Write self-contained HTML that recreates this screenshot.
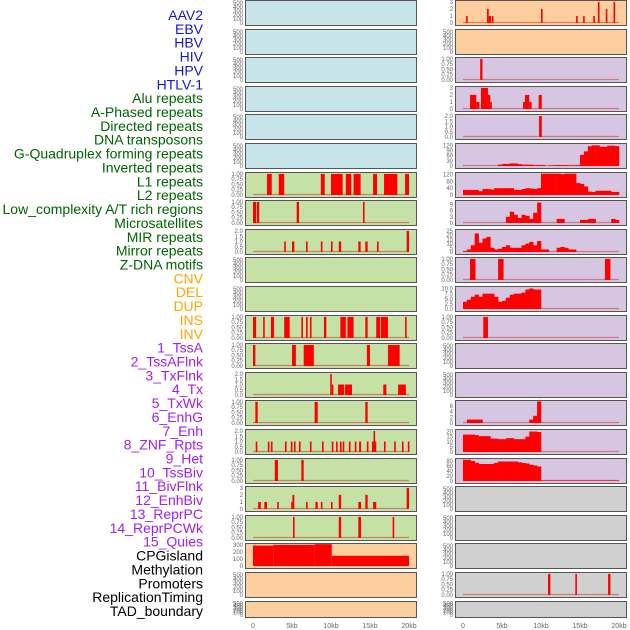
<!DOCTYPE html>
<html><head><meta charset="utf-8"><style>
body{margin:0;background:#fff;}
svg{display:block;font-family:"Liberation Sans",sans-serif;}
</style></head><body>
<svg id="c" width="630" height="630" viewBox="0 0 630 630" xmlns="http://www.w3.org/2000/svg"></svg>
<script>
const labels=["AAV2","EBV","HBV","HIV","HPV","HTLV-1","Alu repeats","A-Phased repeats","Directed repeats","DNA transposons","G-Quadruplex forming repeats","Inverted repeats","L1 repeats","L2 repeats","Low_complexity A/T rich regions","Microsatellites","MIR repeats","Mirror repeats","Z-DNA motifs","CNV","DEL","DUP","INS","INV","1_TssA","2_TssAFlnk","3_TxFlnk","4_Tx","5_TxWk","6_EnhG","7_Enh","8_ZNF_Rpts","9_Het","10_TssBiv","11_BivFlnk","12_EnhBiv","13_ReprPC","14_ReprPCWk","15_Quies","CPGisland","Methylation","Promoters","ReplicationTiming","TAD_boundary"];
const labelColors=["#1515e0","#1515e0","#1515e0","#1515e0","#1515e0","#1515e0","#006400","#006400","#006400","#006400","#006400","#006400","#006400","#006400","#006400","#006400","#006400","#006400","#006400","#ffa500","#ffa500","#ffa500","#ffa500","#ffa500","#a020f0","#a020f0","#a020f0","#a020f0","#a020f0","#a020f0","#a020f0","#a020f0","#a020f0","#a020f0","#a020f0","#a020f0","#a020f0","#a020f0","#a020f0","#000","#000","#000","#000","#000"];
const xTicks=[0,5,10,15,20];
const xTickLabels=["0","5kb","10kb","15kb","20kb"];
const tEmpty=[0,100,200,300,400,500];
const t1=[0,0.25,0.5,0.75,1.0];
const t2=[0,0.5,1.0,1.5,2.0];
const t3=[0,1,2,3];
// left column segments [startKb,endKb,value]
const L6=[[1.8,2.4,1],[3.3,4.0,1],[8.7,9.2,1],[10.0,11.5,1],[11.9,12.6,1],[12.9,13.8,1],[15.4,15.9,1],[16.8,18.5,1],[19.5,20.0,1]];
const L7=[[0,0.4,1],[0.5,0.8,1],[5.6,5.9,1],[14.1,14.3,1]];
const L8=[[4.0,4.2,1],[5.0,5.3,1],[6.8,7.0,1],[8.7,8.9,1],[10.0,10.2,1],[11.0,11.3,1],[13.5,13.8,1],[14.4,14.7,1],[15.9,16.1,1],[19.7,20.0,2]];
const L11=[[0,0.4,1],[1.3,1.5,1],[2.3,2.7,1],[4.0,4.7,1],[6.2,6.4,1],[6.8,7.0,1],[7.3,7.5,1],[9.1,9.4,1],[11.2,11.9,1],[12.1,12.9,1],[14.4,14.7,1],[15.8,16.3,1],[16.4,17.3,1],[19.5,19.7,1]];
const L12=[[0,0.3,1],[5.0,5.5,1],[6.5,7.8,1],[14.6,15.0,1],[17.3,18.8,1]];
const L13=[[9.9,10.1,2],[10.1,10.2,1],[10.9,11.7,1],[11.8,12.7,1],[16.7,17.1,1],[18.6,19.6,1]];
const L14=[[0.3,0.6,1],[7.9,8.3,1],[14.4,14.7,1]];
const L15=[[0.35,0.5,1],[1.9,2.05,1],[2.3,2.45,1],[4.1,4.25,1],[4.85,5.0,1],[5.25,5.4,1],[5.9,6.05,1],[7.3,7.45,1],[8.85,9.0,1],[10.1,10.25,1],[10.65,10.8,1],[11.15,11.3,1],[11.5,11.65,1],[12.3,12.45,1],[13.05,13.2,1],[13.6,13.85,1],[14.6,14.75,1],[15.25,15.45,1],[15.45,15.6,2],[15.6,15.7,1],[16.8,16.95,1],[18.1,18.25,1],[19.1,19.25,1],[19.85,20.0,1]];
const L16=[[2.8,3.2,1],[6.2,6.5,1]];
const L17=[[0.65,1.0,1],[1.45,1.8,1],[3.1,3.3,1],[4.9,5.05,1],[5.05,5.3,2],[6.8,7.0,1],[8.0,8.3,1],[8.7,8.9,1],[10.0,10.2,1],[11.0,11.3,2],[13.5,13.85,1],[14.4,14.7,2],[15.4,15.8,1],[19.7,20.0,3]];
const L18=[[5.13,5.33,1],[11.0,11.3,1],[13.5,13.85,1],[17.9,18.1,1]];
const L19=[[0,2.6,290],[2.6,7.9,300],[7.9,10.1,310],[10.1,20.0,145]];
// right column segments
const R0=[[0.4,0.6,1],[3.08,3.3,2],[3.3,3.6,1],[3.7,3.9,1],[10.0,10.2,2],[14.5,14.7,1],[15.4,15.6,1],[16.7,16.9,1],[17.3,17.5,3],[18.3,18.5,2],[19.3,19.5,3]];
const R2=[[2.2,2.5,1]];
const R3=[[0.9,1.7,2],[1.7,2.1,1],[2.3,3.2,3],[3.2,3.5,2],[3.5,3.6,1],[7.7,7.95,1],[7.95,8.5,2],[8.5,8.8,1],[9.7,10.1,2]];
const R4=[[9.75,10.1,2]];
const R9=[[0.9,1.6,1],[4.5,5.2,1],[18.2,18.9,1]];
const R11=[[2.6,3.2,1]];
const R20=[[10.9,11.2,1],[14.4,14.6,1],[18.6,18.9,1]];
// right column binned values (0.5kb bins, 0..20kb)
const R5=[0,0,0,0,0,0,0,0,0,8,12,12,15,15,11,8,8,8,4,5,5,0,3,4,5,5,5,3,4,5,65,85,115,120,120,112,112,118,118,115];
const R6=[30,30,30,30,22,35,35,32,40,40,40,40,40,30,30,35,40,38,35,40,125,125,125,125,125,122,125,125,125,70,65,50,20,18,25,25,25,25,18,18];
const R7=[0,0,0,0,0,0,0,0,0,0,0,3,5.5,4,2.5,4,3.5,2,5,10,0,0,0,0,2,2,0,0,0,0,1.5,1.5,2,2,0,0,0,0,2,1.5];
const R8=[1,3,8,22,11,16,18,5,3,4,6,8,5,5,5,8,10,12,8,13,3,3,0,0,5,6,5,3,3,0,0,0,0,0,0,0,0,0,0,0];
const R10=[3.5,4.5,6,7,6,7.5,7.5,7.5,6,3.5,4,5.5,7,7.5,7.5,8,9.5,10,9.5,9.5,0,0,0,0,0,0,0,0,0,0,0,0,0,0,0,0,0,0,0,0];
const R14=[0,1.2,1.2,1.2,1.2,0,0,0,0,0,0,0,0,0,0,0,0,1.2,2.5,7.5,0,0,0,0,0,0,0,0,0,0,0,0,0,0,0,0,0,0,0,0];
const R15=[17,17,17,16.5,15.5,15.5,15.5,13,13,12.5,12.5,13.5,13.5,12.5,12.5,12.5,15,20,20,19.5,0,0,0,0,0,0,0,0,0,0,0,0,0,0,0,0,0,0,0,0];
const R16=[85,85,80,73,68,68,68,68,73,78,78,78,78,78,75,72,70,65,62,58,2,2,2,2,2,2,2,2,2,2,2,2,2,2,2,2,2,2,2,2];

const BL="#c7e4eb",GR="#c6e1a5",OR="#fecf9e",PU="#d6c6e2",GY="#d0d0d0";
const panels=[];
function P(col,row,bg,ticks,ymax,seg,bins,tl){panels.push({col,row,bg,ticks,ymax,seg,bins,tl});}
for(let r=0;r<6;r++)P(0,r,BL,tEmpty,540,null,null);
P(0,6,GR,t1,1.02,L6);P(0,7,GR,t1,1.02,L7);P(0,8,GR,t2,2.05,L8);
P(0,9,GR,tEmpty,540);P(0,10,GR,tEmpty,540);
P(0,11,GR,t1,1.02,L11);P(0,12,GR,t1,1.02,L12);P(0,13,GR,t2,2.05,L13);P(0,14,GR,t1,1.02,L14);
P(0,15,GR,t2,2.05,L15);P(0,16,GR,t1,1.02,L16);P(0,17,GR,t3,3.05,L17);P(0,18,GR,t1,1.02,L18);
P(0,19,OR,[0,100,200,300],305,L19);P(0,20,OR,tEmpty,540);P(0,21,OR,tEmpty,540);
P(1,0,OR,t3,3.05,R0);P(1,1,OR,tEmpty,540);P(1,2,PU,t1,1.02,R2);P(1,3,PU,t3,3.05,R3);P(1,4,PU,t2,2.05,R4);
P(1,5,PU,[0,30,60,90,120],125,null,R5);P(1,6,PU,[0,40,80,120],126,null,R6);P(1,7,PU,[0,3,6,9],10.5,null,R7);
P(1,8,PU,[0,5,10,15,20,25],25.5,null,R8);P(1,9,PU,t1,1.02,R9);P(1,10,PU,[0,2.5,5,7.5,10],10.5,null,R10,["0.0","2.5","5.0","7.5","10.0"]);
P(1,11,PU,t1,1.02,R11);P(1,12,PU,tEmpty,540);P(1,13,PU,tEmpty,540);
P(1,14,PU,[0,2,4,6],7.5,null,R14);P(1,15,PU,[0,5,10,15,20],21,null,R15);P(1,16,PU,[0,20,40,60,80],86,null,R16);
P(1,17,GY,tEmpty,540);P(1,18,GY,tEmpty,540);P(1,19,GY,tEmpty,540);P(1,20,GY,t1,1.02,R20);P(1,21,GY,tEmpty,540);

const NS="http://www.w3.org/2000/svg";
const svg=document.getElementById('c');
function mk(tag,attrs,parent){const e=document.createElementNS(NS,tag);for(const k in attrs)e.setAttribute(k,attrs[k]);(parent||svg).appendChild(e);return e;}
// labels
labels.forEach((t,i)=>{
  const e=mk('text',{x:203,y:15+i*13.86+5,'text-anchor':'end','font-size':'14',fill:labelColors[i]});
  
  
  e.textContent=t;
});
function fmt(v,ticks,tl,i){
  if(tl)return tl[i];
  if(ticks===t1)return v.toFixed(2);
  if(ticks===t2)return v.toFixed(1);
  return String(v);
}
panels.forEach(p=>{
  const px=p.col?455:245, top=Math.round(p.row*28.6), h=p.row===21?16:25, w=171;
  const x0=px+8, xs=156/20;
  const yb=top+h-2, yt=top+1.5;
  const ys=v=>yb-(v/p.ymax)*(yb-yt);
  const xk=k=>x0+k*xs;
  const g=mk('g',{});
  
  
  const bg=mk('rect',{x:px+0.5,y:top+0.5,width:w,height:h,fill:p.bg,stroke:'none'},g);
  
  
  p.ticks.forEach((v,i)=>{
    const t=mk('text',{x:px-2,y:ys(v)+2,'text-anchor':'end','font-size':'6',fill:'#666'},g);
    
    
    t.textContent=fmt(v,p.ticks,p.tl,i);
  });
  if(p.seg){
    const base=mk('line',{x1:xk(0),x2:xk(20),y1:yb-0.5,y2:yb-0.5,stroke:'#c44',  'stroke-width':1.2,opacity:0.6},g);
    
    
    p.seg.forEach(s=>{
      const y=Math.max(top+0.5,ys(s[2]));
      const r=mk('rect',{x:xk(s[0]),y:y,width:Math.max(1.6,(s[1]-s[0])*xs),height:yb-y,fill:'#f00'},g);
      
      
    });
  }
  if(p.bins){
    const base=mk('line',{x1:xk(0),x2:xk(20),y1:yb-0.5,y2:yb-0.5,stroke:'#c44','stroke-width':1.2,opacity:0.6},g);
    
    
    p.bins.forEach((v,i)=>{
      if(v<=0)return;
      const y=Math.max(top+0.5,ys(v));
      const r=mk('rect',{x:xk(i*0.5),y:y,width:0.5*xs+0.3,height:yb-y,fill:'#f00'},g);
      
      
    });
  }
  const bd=mk('rect',{x:px+0.5,y:top+0.5,width:w,height:h,fill:'none',stroke:'#555','stroke-width':1},g);
  
  
});
[245,455].forEach(px=>{
  xTicks.forEach((k,i)=>{
    const t=mk('text',{x:px+8+k*7.8,y:628,'text-anchor':'middle','font-size':'7',fill:'#666'});
    
    
    t.textContent=xTickLabels[i];
  });
});
</script>
</body></html>
